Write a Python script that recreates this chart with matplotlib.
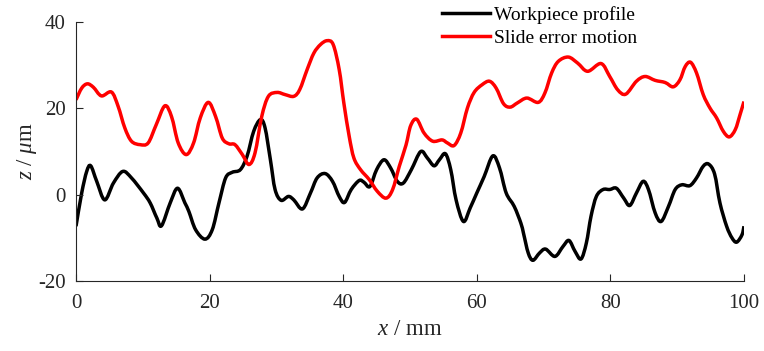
import matplotlib
matplotlib.use("Agg")
import matplotlib.pyplot as plt
from matplotlib.path import Path
from matplotlib.patches import PathPatch
from matplotlib.lines import Line2D

plt.rcParams["font.family"] = ["Liberation Serif", "DejaVu Serif"]
plt.rcParams["mathtext.fontset"] = "custom"
plt.rcParams["mathtext.it"] = "Liberation Serif:italic"
plt.rcParams["mathtext.rm"] = "Liberation Serif"
plt.rcParams["axes.unicode_minus"] = False

# Slide error motion (x in mm, z in um)
slide_x = [0, 0.85, 1.7, 2.6, 3.8, 5.3, 6.3, 7.3, 8.3, 9.6, 10.8, 12.0, 13.3, 14.3, 15.3,
           16.5, 17.6, 18.6, 19.8, 20.9, 21.9, 22.9, 23.8, 24.9, 25.9, 26.8, 27.8, 28.8,
           30.1, 31.3, 32.6, 33.5, 34.6, 35.6, 36.6, 37.6, 38.5, 39.4, 40.1, 40.9, 41.6,
           42.6, 43.9, 45.1, 46.4, 47.4, 48.4, 49.4, 50.1, 51.0, 52.1, 53.4, 54.8, 55.6,
           56.6, 57.6, 58.6, 59.6, 60.8, 61.9, 62.9, 64.0, 65.0, 66.1, 67.5, 69.2, 70.2,
           71.2, 72.2, 73.7, 75.1, 76.6, 78.6, 79.9, 81.1, 82.3, 83.9, 85.2, 86.7, 88.2,
           89.4, 90.4, 91.2, 92.0, 92.9, 93.9, 94.9, 95.9, 96.9, 97.8, 98.7, 99.4, 100]
slide_z = [22.0, 24.7, 25.7, 24.9, 22.9, 23.8, 20.5, 15.5, 12.4, 11.6, 12.0, 16.2, 20.6, 18.1,
           12.0, 9.3, 12.0, 17.8, 21.4, 18.1, 13.1, 11.8, 11.6, 9.3, 7.0, 9.7, 18.1, 22.8,
           23.7, 23.2, 22.8, 24.4, 29.0, 32.8, 34.8, 35.7, 34.8, 29.0, 21.2, 13.5, 8.5,
           5.8, 3.5, 0.8, -0.8, 1.2, 6.6, 11.5, 16.0, 17.5, 14.3, 12.4, 12.7, 12.0,
           11.4, 14.3, 20.1, 23.7, 25.5, 26.3, 24.7, 21.1, 20.3, 21.3, 22.4, 21.4, 23.6,
           28.2, 30.9, 31.9, 30.5, 28.6, 30.4, 27.4, 24.3, 23.3, 26.3, 27.4, 26.5, 26.0,
           25.0, 26.6, 29.7, 30.7, 28.2, 23.2, 20.1, 17.8, 14.7, 13.4, 15.1, 18.5, 21.6]

# Workpiece profile (x in mm, z in um)
work_x = [0, 0.85, 1.6, 2.2, 3.1, 4.3, 5.6, 7.0, 8.3, 10.1, 11.1, 12.1, 12.8, 14.1, 15.2,
          16.3, 16.9, 17.9, 19.3, 20.4, 21.4, 22.4, 23.4, 24.6, 25.6, 26.6, 27.6, 28.3,
          29.1, 29.8, 30.7, 31.8, 32.6, 33.9, 35.1, 36.1, 37.3, 38.4, 39.4, 40.2, 41.2,
          42.4, 43.1, 44.0, 45.0, 46.1, 47.1, 48.1, 49.0, 50.2, 51.6, 52.6, 53.6, 54.4,
          55.3, 56.1, 56.9, 58.0, 59.0, 60.0, 61.1, 62.4, 63.4, 64.4, 65.6, 66.6, 67.0,
          67.7, 68.4, 69.4, 70.3, 71.7, 72.9, 73.8, 74.7, 75.6, 76.4, 77.1, 77.9, 78.9,
          79.9, 80.9, 82.0, 82.9, 83.9, 84.9, 85.7, 86.7, 87.6, 88.7, 89.7, 90.7, 91.9,
          92.9, 93.9, 94.7, 95.6, 96.4, 97.4, 98.2, 98.9, 99.7, 100]
work_z = [-7.3, 0.4, 5.4, 6.7, 3.1, -1.2, 2.7, 5.4, 3.9, 0.4, -1.9, -5.4, -7.2, -1.9, 1.5,
          -1.9, -3.9, -8.1, -10.3, -8.1, -1.9, 3.9, 5.2, 5.8, 8.9, 14.7, 17.4, 15.5,
          8.1, 1.2, -1.3, -0.4, -1.2, -3.3, 0.4, 3.9, 4.9, 3.1, -0.4, -1.8, 1.2,
          3.3, 2.9, 1.9, 5.8, 8.1, 6.2, 3.1, 2.7, 5.8, 10.0, 8.5, 6.7, 8.1,
          9.5, 5.8, -1.2, -6.2, -3.1, 0.4, 4.2, 9.0, 6.2, 0.4, -2.7, -6.6, -9.0,
          -13.5, -15.2, -13.5, -12.6, -14.3, -12.0, -10.6, -13.1, -14.9, -11.2, -5.0, -0.4, 1.2,
          1.2, 1.5, -0.8, -2.5, 0.4, 3.1, 1.2, -4.2, -6.2, -2.7, 1.2, 2.3, 2.1,
          3.9, 6.6, 7.1, 4.8, -1.9, -7.3, -10.0, -11.0, -9.3, -7.3]

x_ticks = [0, 20, 40, 60, 80, 100]
z_ticks = [-20, 0, 20, 40]

LINE_W = 2.5


def smooth_path(xs, zs):
    """Cubic Bezier path passing through every (x, z) sample (Catmull-Rom tangents)."""
    pts = list(zip(xs, zs))
    n = len(pts)
    verts = [pts[0]]
    codes = [Path.MOVETO]
    for i in range(n - 1):
        p0 = pts[max(i - 1, 0)]
        p1 = pts[i]
        p2 = pts[i + 1]
        p3 = pts[min(i + 2, n - 1)]
        c1 = (p1[0] + (p2[0] - p0[0]) / 6.0, p1[1] + (p2[1] - p0[1]) / 6.0)
        c2 = (p2[0] - (p3[0] - p1[0]) / 6.0, p2[1] - (p3[1] - p1[1]) / 6.0)
        verts += [c1, c2, p2]
        codes += [Path.CURVE4] * 3
    return Path(verts, codes)


fig = plt.figure(figsize=(7.64, 3.51), dpi=100)
ax = fig.add_axes([0.0995, 0.1994, 0.8743, 0.7376])

for xs, zs, col in ((work_x, work_z, "black"), (slide_x, slide_z, "#ff0000")):
    ax.add_patch(PathPatch(smooth_path(xs, zs), facecolor="none", edgecolor=col,
                           lw=LINE_W, joinstyle="round", capstyle="butt",
                           transform=ax.transData))

ax.set_xlim(0, 100)
ax.set_ylim(-20, 40)
ax.set_xticks(x_ticks)
ax.set_yticks(z_ticks)
ax.tick_params(direction="in", length=5, width=0.8, labelsize=15,
               colors="#262626")
ax.tick_params(axis="x", pad=9.5)
ax.tick_params(axis="y", pad=7.5)
for side in ("top", "right"):
    ax.spines[side].set_visible(False)
for side in ("left", "bottom"):
    ax.spines[side].set_color("#262626")
    ax.spines[side].set_linewidth(0.8)

ax.set_xlabel(r"$x$ / mm", fontsize=16.5, color="#262626", labelpad=4.5)
ax.set_ylabel(r"$z$ / $\mu$m", fontsize=16.5, color="#262626", labelpad=-1)

handles = [Line2D([], [], color="black", lw=LINE_W),
           Line2D([], [], color="#ff0000", lw=LINE_W)]
labels = ["Workpiece profile", "Slide error motion"]
fig.legend(handles, labels, loc="upper left", bbox_to_anchor=(0.578, 0.983),
           frameon=False, fontsize=14, handlelength=2.5, handletextpad=0.2,
           labelspacing=0.3, borderpad=0, borderaxespad=0)

fig.savefig("out.png", dpi=100)
